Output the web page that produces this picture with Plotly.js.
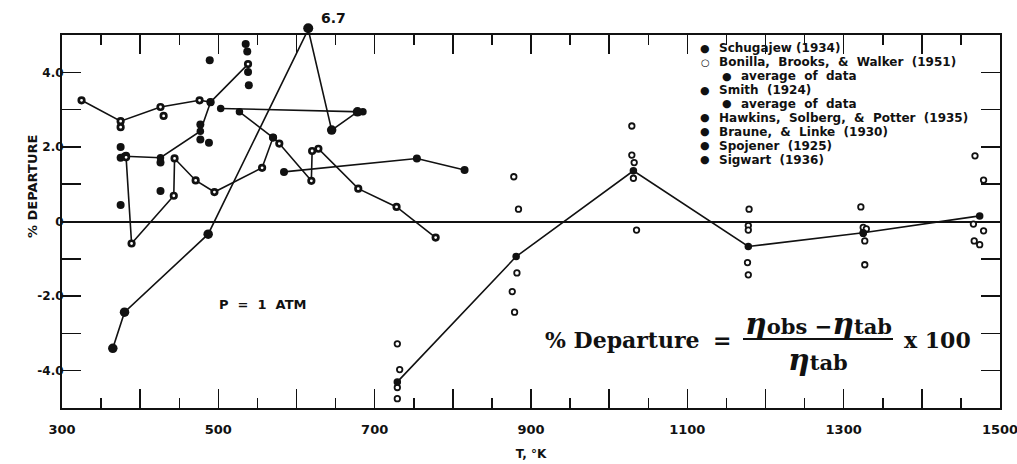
<!DOCTYPE html>
<html><head><meta charset="utf-8">
<script src="https://cdn.plot.ly/plotly-3.0.1.min.js"></script>
<style>html,body{margin:0;padding:0;background:#fff;} #chart{width:1017px;height:464px;}</style>
</head><body><div id="chart"></div>
<script>
// ---------------- data ----------------
// Bonilla, Brooks & Walker (1951): individual data (open circles)
const bonillaT = [729,732,729,729, 878,884,882,876,879, 1029,1029,1032,1031,1035, 1179,1178,1178,1177,1178, 1322,1325,1329,1325,1327,1327, 1468,1479,1466,1479,1467,1474];
const bonillaY = [-3.28,-3.97,-4.45,-4.75, 1.2,0.33,-1.38,-1.88,-2.43, 2.56,1.78,1.58,1.16,-0.23, 0.33,-0.11,-0.23,-1.1,-1.43, 0.39,-0.16,-0.2,-0.32,-0.52,-1.16, 1.76,1.11,-0.07,-0.25,-0.52,-0.62];
// Bonilla average of data
const bonillaAvgT = [729,881,1031,1178,1325,1474];
const bonillaAvgY = [-4.3,-0.94,1.36,-0.67,-0.3,0.15];
// Schugajew (1934)
const schugajewT = [325,375,426,476,490,538,null,375,null,430];
const schugajewY = [3.25,2.69,3.07,3.25,3.2,4.22,null,2.53,null,2.83];
// Smith (1924) individual data
const smithT = [375,375,375,382,426,426,477,477,488,489,535,537,538,539];
const smithY = [2.0,1.71,0.44,1.76,1.58,0.82,2.6,2.2,2.11,4.32,4.76,4.56,4.01,3.65];
// Smith average of data
const smithAvgT = [380,426,477,490];
const smithAvgY = [1.75,1.71,2.42,3.2];
// Hawkins, Solberg & Potter (1935)
const hawkinsT = [382,389,443,444,471,495,556,570,578,619,620,628,679,728,778];
const hawkinsY = [1.72,-0.59,0.69,1.69,1.1,0.79,1.44,2.25,2.09,1.09,1.89,1.95,0.88,0.39,-0.43];
// Braune & Linke (1930)
const brauneT = [503,685,null,527,570];
const brauneY = [3.03,2.94,null,2.94,2.25];
// Spojener (1925)
const spojenerT = [584,754,815];
const spojenerY = [1.33,1.69,1.38];
// Sigwart (1936)
const sigwartT = [365,380,487,615,645,678];
const sigwartY = [-3.4,-2.43,-0.34,6.7,2.45,2.94];

const xTicks = [300,400,500,600,700,800,900,1000,1100,1200,1300,1400,1500];
const xTickText = ['300','','500','','700','','900','','1100','','1300','','1500'];
const yTicks = [-4,-3,-2,-1,0,1,2,3,4];
const yTickText = ['-4.0','','-2.0','','0','','2.0','','4.0'];

const legendLabels = ['Schugajew (1934)','Bonilla,  Brooks,  &  Walker  (1951)','average  of  data','Smith  (1924)','average  of  data','Hawkins,  Solberg,  &  Potter  (1935)','Braune,  &  Linke  (1930)','Spojener  (1925)','Sigwart  (1936)'];
const legendSymbols = ['●','○','●','●','●','●','●','●','●'];
const legendIndent = [0,0,1,0,1,0,0,0,0];

// ---------------- layout helpers ----------------
const W = 1017, H = 464, PL = 62, PR = 1000, PT = 35, PB = 408;
const Y_MAX = 5;
const px = p => (p - PL) / (PR - PL);
const py = p => (PB - p) / (PB - PT);
const INK = '#111';
const LET = 'DejaVu Sans';
const lineStyle = {color: INK, width: 1.6};
const ring = {symbol:'circle', size:5.5, color:'#fff', line:{color:INK, width:2.7}};
const solid = s => ({symbol:'circle', size:s, color:INK, line:{color:INK, width:0}});

// off-scale values are drawn on a broken scale, just above the frame
const sigwartPlotY = sigwartY.map(v => v > Y_MAX ? Y_MAX + 0.15 : v);
const offIdx = sigwartY.findIndex(v => v > Y_MAX);

const traces = [
  {x:bonillaT, y:bonillaY, mode:'markers', marker:{symbol:'circle', size:5.5, color:'#fff', line:{color:INK, width:1.8}}},
  {x:bonillaAvgT, y:bonillaAvgY, mode:'lines+markers', line:lineStyle, marker:solid(7.5)},
  {x:schugajewT, y:schugajewY, mode:'lines+markers', line:lineStyle, marker:ring},
  {x:smithT, y:smithY, mode:'markers', marker:solid(8)},
  {x:smithAvgT, y:smithAvgY, mode:'lines+markers', line:lineStyle, marker:solid(7.5)},
  {x:hawkinsT, y:hawkinsY, mode:'lines+markers', line:lineStyle, marker:ring},
  {x:brauneT, y:brauneY, mode:'lines+markers', line:lineStyle, marker:solid(7.5)},
  {x:spojenerT, y:spojenerY, mode:'lines+markers', line:lineStyle, marker:solid(8)},
  {x:sigwartT, y:sigwartPlotY, mode:'lines+markers', line:lineStyle, marker:solid(9.5)}
].map(t => Object.assign({type:'scatter', showlegend:false, hoverinfo:'skip', connectgaps:false}, t));

const annotations = [];
// legend block
legendLabels.forEach((lab, i) => {
  const yy = 48.3 + i * 13.9;
  const sx = legendIndent[i] ? 727 : 705;
  annotations.push({xref:'paper', yref:'paper', x:px(sx), y:py(yy), xanchor:'center', yanchor:'middle', showarrow:false,
    text:legendSymbols[i], font:{family:LET, size:legendSymbols[i]==='○'?10:11, color:INK}});
  annotations.push({xref:'paper', yref:'paper', x:px(sx + 12), y:py(yy), xanchor:'left', yanchor:'middle', showarrow:false,
    text:lab.replace(/  /g, '\u00a0 '), font:{family:LET, size:12, weight:'bold', color:INK}});
});
// off-scale label
annotations.push({x:sigwartT[offIdx], xref:'x', y:py(17.5), yref:'paper', showarrow:false, xshift:25,
  xanchor:'center', yanchor:'middle',
  text:String(sigwartY[offIdx]), font:{family:LET, size:14, weight:'bold', color:INK}});
// pressure note
annotations.push({x:557, y:-2.23, xref:'x', yref:'y', showarrow:false, text:'P\u00a0 =\u00a0 1\u00a0 ATM',
  font:{family:LET, size:13, weight:'bold', color:INK}});
// y axis title
annotations.push({xref:'paper', yref:'paper', x:px(32), y:py(187), xanchor:'center', yanchor:'middle', showarrow:false, textangle:-90,
  text:'% DEPARTURE', font:{family:LET, size:13, weight:'bold', color:INK}});
// formula
const SER = 'DejaVu Serif';
annotations.push({xref:'paper', yref:'paper', x:px(543), y:py(340), xanchor:'left', yanchor:'middle', showarrow:false,
  text:'% Departure', font:{family:SER, size:22, weight:'bold', color:INK}});
annotations.push({xref:'paper', yref:'paper', x:px(722), y:py(340), xanchor:'center', yanchor:'middle', showarrow:false,
  text:'=', font:{family:SER, size:22, weight:'bold', color:INK}});
annotations.push({xref:'paper', yref:'paper', x:px(818), y:py(323), xanchor:'center', yanchor:'middle', showarrow:false,
  text:'<span style="font-size:30px"><i>η</i></span>obs −<span style="font-size:30px"><i>η</i></span>tab', font:{family:SER, size:21, weight:'bold', color:INK}});
annotations.push({xref:'paper', yref:'paper', x:px(818), y:py(359), xanchor:'center', yanchor:'middle', showarrow:false,
  text:'<span style="font-size:30px"><i>η</i></span>tab', font:{family:SER, size:21, weight:'bold', color:INK}});
annotations.push({xref:'paper', yref:'paper', x:px(902), y:py(340), xanchor:'left', yanchor:'middle', showarrow:false,
  text:'x 100', font:{family:SER, size:22, weight:'bold', color:INK}});

const shapes = [
  {type:'line', xref:'paper', yref:'paper', x0:px(743), x1:px(893), y0:py(339), y1:py(339), line:{color:INK, width:2}},
  // off-scale point marker above the frame
  {type:'circle', xref:'x', yref:'paper', xsizemode:'pixel', ysizemode:'pixel',
   xanchor:sigwartT[offIdx], yanchor:py(28.3), x0:-5, x1:5, y0:-5, y1:5,
   fillcolor:INK, line:{color:INK, width:0}}
];

const tickFont = {family:LET, size:12, weight:'bold', color:INK};
const layout = {
  width:W, height:H,
  margin:{l:PL, r:W-PR, t:PT, b:H-PB, pad:0},
  paper_bgcolor:'#fff', plot_bgcolor:'#fff',
  font:{family:LET, color:INK},
  xaxis:{range:[300,1500], tickmode:'array', tickvals:xTicks, ticktext:xTickText,
    ticks:'inside', ticklen:19, tickwidth:1.5, tickcolor:INK,
    minor:{dtick:50, tick0:300, ticks:'inside', ticklen:10, tickwidth:1.5, tickcolor:INK, showgrid:false},
    showline:true, linewidth:2, linecolor:INK, mirror:'ticks', showgrid:false, zeroline:false,
    tickfont:Object.assign({}, tickFont, {size:13}), ticklabelstandoff:8, ticklabeloverflow:'allow',
    title:{text:'T, °K', font:{family:LET, size:12, weight:'bold', color:INK}, standoff:14}},
  yaxis:{range:[-5,5], tickmode:'array', tickvals:yTicks, ticktext:yTickText,
    ticks:'inside', ticklen:19, tickwidth:1.5, tickcolor:INK,
    showline:true, linewidth:2, linecolor:INK, mirror:'ticks', showgrid:false,
    zeroline:true, zerolinecolor:INK, zerolinewidth:2,
    tickfont:tickFont, ticklabelstandoff:-6},
  annotations, shapes, showlegend:false
};
Plotly.newPlot('chart', traces, layout, {staticPlot:true, displayModeBar:false});
</script></body></html>
